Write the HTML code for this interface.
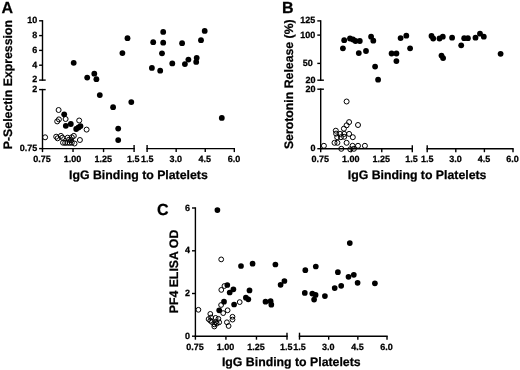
<!DOCTYPE html>
<html><head><meta charset="utf-8"><title>Figure</title>
<style>
html,body{margin:0;padding:0;background:#fff;}
body{width:520px;height:370px;overflow:hidden;}
svg{display:block;will-change:transform;}
svg text{font-family:"Liberation Sans",sans-serif;font-weight:bold;fill:#000;text-rendering:geometricPrecision;stroke:#000;stroke-width:0.25px;}
</style></head><body>
<svg width="520" height="370" viewBox="0 0 520 370">
<rect width="520" height="370" fill="#fff"/>
<text x="1.5" y="13.4" font-size="16" text-anchor="start" >A</text>
<line x1="42.50" y1="20.80" x2="42.50" y2="80.10" stroke="#000" stroke-width="1.4" stroke-linecap="square"/>
<line x1="39.10" y1="20.80" x2="42.50" y2="20.80" stroke="#000" stroke-width="1.4"/>
<text x="37.2" y="23.3" font-size="9" text-anchor="end" >10</text>
<line x1="39.10" y1="35.60" x2="42.50" y2="35.60" stroke="#000" stroke-width="1.4"/>
<text x="37.2" y="38.1" font-size="9" text-anchor="end" >8</text>
<line x1="39.10" y1="50.40" x2="42.50" y2="50.40" stroke="#000" stroke-width="1.4"/>
<text x="37.2" y="52.9" font-size="9" text-anchor="end" >6</text>
<line x1="39.10" y1="65.20" x2="42.50" y2="65.20" stroke="#000" stroke-width="1.4"/>
<text x="37.2" y="67.7" font-size="9" text-anchor="end" >4</text>
<line x1="39.10" y1="80.10" x2="45.70" y2="80.10" stroke="#000" stroke-width="1.4"/>
<text x="37.2" y="82.0" font-size="9" text-anchor="end" >2</text>
<line x1="42.50" y1="89.60" x2="42.50" y2="148.60" stroke="#000" stroke-width="1.4" stroke-linecap="square"/>
<line x1="39.10" y1="89.60" x2="45.70" y2="89.60" stroke="#000" stroke-width="1.4"/>
<text x="37.2" y="92.1" font-size="9" text-anchor="end" >2</text>
<line x1="39.10" y1="148.60" x2="42.50" y2="148.60" stroke="#000" stroke-width="1.4"/>
<text x="37.2" y="151.1" font-size="9" text-anchor="end" >0.75</text>
<line x1="42.50" y1="148.60" x2="134.09" y2="148.60" stroke="#000" stroke-width="1.4" stroke-linecap="square"/>
<line x1="147.10" y1="148.60" x2="234.31" y2="148.60" stroke="#000" stroke-width="1.4" stroke-linecap="square"/>
<line x1="42.50" y1="148.60" x2="42.50" y2="152.10" stroke="#000" stroke-width="1.4"/>
<line x1="73.03" y1="148.60" x2="73.03" y2="152.10" stroke="#000" stroke-width="1.4"/>
<line x1="103.56" y1="148.60" x2="103.56" y2="152.10" stroke="#000" stroke-width="1.4"/>
<line x1="134.09" y1="145.10" x2="134.09" y2="152.10" stroke="#000" stroke-width="1.4"/>
<line x1="147.10" y1="145.10" x2="147.10" y2="152.10" stroke="#000" stroke-width="1.4"/>
<line x1="176.17" y1="148.60" x2="176.17" y2="152.10" stroke="#000" stroke-width="1.4"/>
<line x1="205.24" y1="148.60" x2="205.24" y2="152.10" stroke="#000" stroke-width="1.4"/>
<line x1="234.31" y1="148.60" x2="234.31" y2="152.10" stroke="#000" stroke-width="1.4"/>
<text x="42.1" y="162.29999999999998" font-size="9" text-anchor="middle" >0.75</text>
<text x="72.63" y="162.29999999999998" font-size="9" text-anchor="middle" >1.00</text>
<text x="103.16" y="162.29999999999998" font-size="9" text-anchor="middle" >1.25</text>
<text x="133.29" y="162.29999999999998" font-size="9" text-anchor="middle" >1.5</text>
<text x="147.2" y="162.29999999999998" font-size="9" text-anchor="middle" >1.5</text>
<text x="175.76999999999998" y="162.29999999999998" font-size="9" text-anchor="middle" >3.0</text>
<text x="204.84" y="162.29999999999998" font-size="9" text-anchor="middle" >4.5</text>
<text x="233.91" y="162.29999999999998" font-size="9" text-anchor="middle" >6.0</text>
<text x="138.4" y="178.8" font-size="12.3" text-anchor="middle" >IgG Binding to Platelets</text>
<text transform="translate(11.7,84.6) rotate(-90)" font-size="12.3" text-anchor="middle">P-Selectin Expression</text>
<circle cx="58.6" cy="110.0" r="2.50" fill="none" stroke="#000" stroke-width="1.0"/>
<circle cx="65.6" cy="119.0" r="2.50" fill="none" stroke="#000" stroke-width="1.0"/>
<circle cx="57.2" cy="121.4" r="2.50" fill="none" stroke="#000" stroke-width="1.0"/>
<circle cx="58.9" cy="119.4" r="2.50" fill="none" stroke="#000" stroke-width="1.0"/>
<circle cx="79.2" cy="120.5" r="2.50" fill="none" stroke="#000" stroke-width="1.0"/>
<circle cx="86.6" cy="129.6" r="2.50" fill="none" stroke="#000" stroke-width="1.0"/>
<circle cx="45.1" cy="137.3" r="2.50" fill="none" stroke="#000" stroke-width="1.0"/>
<circle cx="56.2" cy="136.7" r="2.50" fill="none" stroke="#000" stroke-width="1.0"/>
<circle cx="57.6" cy="138.3" r="2.50" fill="none" stroke="#000" stroke-width="1.0"/>
<circle cx="60.9" cy="135.9" r="2.50" fill="none" stroke="#000" stroke-width="1.0"/>
<circle cx="62.3" cy="137.7" r="2.50" fill="none" stroke="#000" stroke-width="1.0"/>
<circle cx="67.7" cy="137.7" r="2.50" fill="none" stroke="#000" stroke-width="1.0"/>
<circle cx="73.8" cy="135.9" r="2.50" fill="none" stroke="#000" stroke-width="1.0"/>
<circle cx="71.8" cy="137.3" r="2.50" fill="none" stroke="#000" stroke-width="1.0"/>
<circle cx="79.9" cy="140.0" r="2.50" fill="none" stroke="#000" stroke-width="1.0"/>
<circle cx="74.5" cy="143.5" r="2.50" fill="none" stroke="#000" stroke-width="1.0"/>
<circle cx="63" cy="142.7" r="2.50" fill="none" stroke="#000" stroke-width="1.0"/>
<circle cx="65.2" cy="142.9" r="2.50" fill="none" stroke="#000" stroke-width="1.0"/>
<circle cx="67.4" cy="142.7" r="2.50" fill="none" stroke="#000" stroke-width="1.0"/>
<circle cx="69.6" cy="142.9" r="2.50" fill="none" stroke="#000" stroke-width="1.0"/>
<circle cx="71.8" cy="142.7" r="2.50" fill="none" stroke="#000" stroke-width="1.0"/>
<circle cx="69" cy="139.7" r="2.50" fill="none" stroke="#000" stroke-width="1.0"/>
<circle cx="71" cy="140.3" r="2.50" fill="none" stroke="#000" stroke-width="1.0"/>
<circle cx="73.7" cy="62.8" r="2.9" fill="#000"/>
<circle cx="87.2" cy="77.6" r="2.9" fill="#000"/>
<circle cx="94.3" cy="73.7" r="2.9" fill="#000"/>
<circle cx="96.4" cy="79.2" r="2.9" fill="#000"/>
<circle cx="122.4" cy="53.1" r="2.9" fill="#000"/>
<circle cx="127.5" cy="38.2" r="2.9" fill="#000"/>
<circle cx="99.8" cy="95.1" r="2.9" fill="#000"/>
<circle cx="113.1" cy="107.2" r="2.9" fill="#000"/>
<circle cx="131.3" cy="102.1" r="2.9" fill="#000"/>
<circle cx="118.2" cy="128.6" r="2.9" fill="#000"/>
<circle cx="118.2" cy="140.1" r="2.9" fill="#000"/>
<circle cx="64.2" cy="114.3" r="2.9" fill="#000"/>
<circle cx="65.8" cy="125.8" r="2.9" fill="#000"/>
<circle cx="70.8" cy="124.0" r="2.9" fill="#000"/>
<circle cx="76.2" cy="129.0" r="2.9" fill="#000"/>
<circle cx="80.5" cy="126.1" r="2.9" fill="#000"/>
<circle cx="78.5" cy="127.4" r="2.9" fill="#000"/>
<circle cx="163.2" cy="31.9" r="2.9" fill="#000"/>
<circle cx="153.2" cy="42.2" r="2.9" fill="#000"/>
<circle cx="163.2" cy="42.7" r="2.9" fill="#000"/>
<circle cx="162" cy="53.3" r="2.9" fill="#000"/>
<circle cx="151.9" cy="67.9" r="2.9" fill="#000"/>
<circle cx="160.2" cy="70.7" r="2.9" fill="#000"/>
<circle cx="172.3" cy="63.4" r="2.9" fill="#000"/>
<circle cx="182.1" cy="43.2" r="2.9" fill="#000"/>
<circle cx="184.9" cy="64.1" r="2.9" fill="#000"/>
<circle cx="188.4" cy="59.6" r="2.9" fill="#000"/>
<circle cx="196.7" cy="57.8" r="2.9" fill="#000"/>
<circle cx="196.2" cy="61.9" r="2.9" fill="#000"/>
<circle cx="201" cy="40.2" r="2.9" fill="#000"/>
<circle cx="204.7" cy="30.9" r="2.9" fill="#000"/>
<circle cx="221.8" cy="117.9" r="2.9" fill="#000"/>
<text x="281.9" y="13.4" font-size="16" text-anchor="start" >B</text>
<line x1="320.70" y1="20.90" x2="320.70" y2="80.20" stroke="#000" stroke-width="1.4" stroke-linecap="square"/>
<line x1="317.30" y1="20.90" x2="320.70" y2="20.90" stroke="#000" stroke-width="1.4"/>
<text x="315.40000000000003" y="23.4" font-size="9" text-anchor="end" >125</text>
<line x1="317.30" y1="35.10" x2="320.70" y2="35.10" stroke="#000" stroke-width="1.4"/>
<text x="315.40000000000003" y="37.6" font-size="9" text-anchor="end" >100</text>
<line x1="317.30" y1="63.40" x2="320.70" y2="63.40" stroke="#000" stroke-width="1.4"/>
<text x="312.70000000000005" y="65.9" font-size="9" text-anchor="end" >50</text>
<line x1="317.30" y1="80.20" x2="323.90" y2="80.20" stroke="#000" stroke-width="1.4"/>
<text x="315.40000000000003" y="82.7" font-size="9" text-anchor="end" >20</text>
<line x1="320.70" y1="89.20" x2="320.70" y2="148.70" stroke="#000" stroke-width="1.4" stroke-linecap="square"/>
<line x1="317.30" y1="89.20" x2="323.90" y2="89.20" stroke="#000" stroke-width="1.4"/>
<text x="315.40000000000003" y="91.7" font-size="9" text-anchor="end" >20</text>
<line x1="317.30" y1="148.70" x2="320.70" y2="148.70" stroke="#000" stroke-width="1.4"/>
<text x="315.40000000000003" y="151.2" font-size="9" text-anchor="end" >0</text>
<line x1="320.70" y1="148.70" x2="412.29" y2="148.70" stroke="#000" stroke-width="1.4" stroke-linecap="square"/>
<line x1="427.20" y1="148.70" x2="513.00" y2="148.70" stroke="#000" stroke-width="1.4" stroke-linecap="square"/>
<line x1="320.70" y1="148.70" x2="320.70" y2="152.20" stroke="#000" stroke-width="1.4"/>
<line x1="351.23" y1="148.70" x2="351.23" y2="152.20" stroke="#000" stroke-width="1.4"/>
<line x1="381.76" y1="148.70" x2="381.76" y2="152.20" stroke="#000" stroke-width="1.4"/>
<line x1="412.29" y1="145.20" x2="412.29" y2="152.20" stroke="#000" stroke-width="1.4"/>
<line x1="427.20" y1="145.20" x2="427.20" y2="152.20" stroke="#000" stroke-width="1.4"/>
<line x1="455.80" y1="148.70" x2="455.80" y2="152.20" stroke="#000" stroke-width="1.4"/>
<line x1="484.40" y1="148.70" x2="484.40" y2="152.20" stroke="#000" stroke-width="1.4"/>
<line x1="513.00" y1="148.70" x2="513.00" y2="152.20" stroke="#000" stroke-width="1.4"/>
<text x="320.3" y="162.39999999999998" font-size="9" text-anchor="middle" >0.75</text>
<text x="350.83000000000004" y="162.39999999999998" font-size="9" text-anchor="middle" >1.00</text>
<text x="381.36" y="162.39999999999998" font-size="9" text-anchor="middle" >1.25</text>
<text x="411.49" y="162.39999999999998" font-size="9" text-anchor="middle" >1.5</text>
<text x="427.3" y="162.39999999999998" font-size="9" text-anchor="middle" >1.5</text>
<text x="455.40000000000003" y="162.39999999999998" font-size="9" text-anchor="middle" >3.0</text>
<text x="484.0" y="162.39999999999998" font-size="9" text-anchor="middle" >4.5</text>
<text x="512.6" y="162.39999999999998" font-size="9" text-anchor="middle" >6.0</text>
<text x="417.1" y="178.8" font-size="12.3" text-anchor="middle" >IgG Binding to Platelets</text>
<text transform="translate(293.1,84.2) rotate(-90)" font-size="12.3" text-anchor="middle">Serotonin Release (%)</text>
<circle cx="346.6" cy="101.5" r="2.50" fill="none" stroke="#000" stroke-width="1.0"/>
<circle cx="349.1" cy="122.1" r="2.50" fill="none" stroke="#000" stroke-width="1.0"/>
<circle cx="346.6" cy="125.3" r="2.50" fill="none" stroke="#000" stroke-width="1.0"/>
<circle cx="358" cy="125" r="2.50" fill="none" stroke="#000" stroke-width="1.0"/>
<circle cx="343.9" cy="128.7" r="2.50" fill="none" stroke="#000" stroke-width="1.0"/>
<circle cx="335.8" cy="130.7" r="2.50" fill="none" stroke="#000" stroke-width="1.0"/>
<circle cx="336.1" cy="133.6" r="2.50" fill="none" stroke="#000" stroke-width="1.0"/>
<circle cx="340.1" cy="133.9" r="2.50" fill="none" stroke="#000" stroke-width="1.0"/>
<circle cx="344.2" cy="133.9" r="2.50" fill="none" stroke="#000" stroke-width="1.0"/>
<circle cx="349.1" cy="133.9" r="2.50" fill="none" stroke="#000" stroke-width="1.0"/>
<circle cx="337.2" cy="137.2" r="2.50" fill="none" stroke="#000" stroke-width="1.0"/>
<circle cx="340.9" cy="137.2" r="2.50" fill="none" stroke="#000" stroke-width="1.0"/>
<circle cx="344.2" cy="136.8" r="2.50" fill="none" stroke="#000" stroke-width="1.0"/>
<circle cx="352.8" cy="137.2" r="2.50" fill="none" stroke="#000" stroke-width="1.0"/>
<circle cx="334.5" cy="142.8" r="2.50" fill="none" stroke="#000" stroke-width="1.0"/>
<circle cx="337.4" cy="142.8" r="2.50" fill="none" stroke="#000" stroke-width="1.0"/>
<circle cx="346.6" cy="142.8" r="2.50" fill="none" stroke="#000" stroke-width="1.0"/>
<circle cx="323.9" cy="145.8" r="2.50" fill="none" stroke="#000" stroke-width="1.0"/>
<circle cx="352.6" cy="145.8" r="2.50" fill="none" stroke="#000" stroke-width="1.0"/>
<circle cx="358" cy="145.8" r="2.50" fill="none" stroke="#000" stroke-width="1.0"/>
<circle cx="364.9" cy="145.8" r="2.50" fill="none" stroke="#000" stroke-width="1.0"/>
<circle cx="341.3" cy="148.8" r="2.50" fill="none" stroke="#000" stroke-width="1.0"/>
<circle cx="350.3" cy="149.3" r="2.50" fill="none" stroke="#000" stroke-width="1.0"/>
<circle cx="353.9" cy="148.8" r="2.50" fill="none" stroke="#000" stroke-width="1.0"/>
<circle cx="342.9" cy="48.3" r="2.9" fill="#000"/>
<circle cx="344.2" cy="40.2" r="2.9" fill="#000"/>
<circle cx="350" cy="38.5" r="2.9" fill="#000"/>
<circle cx="353" cy="39.5" r="2.9" fill="#000"/>
<circle cx="355.5" cy="41" r="2.9" fill="#000"/>
<circle cx="359.8" cy="41" r="2.9" fill="#000"/>
<circle cx="358.8" cy="53.1" r="2.9" fill="#000"/>
<circle cx="366" cy="51" r="2.9" fill="#000"/>
<circle cx="371.1" cy="36.7" r="2.9" fill="#000"/>
<circle cx="373.3" cy="40.7" r="2.9" fill="#000"/>
<circle cx="375.1" cy="66.6" r="2.9" fill="#000"/>
<circle cx="378.1" cy="79.7" r="2.9" fill="#000"/>
<circle cx="391.6" cy="53.5" r="2.9" fill="#000"/>
<circle cx="396.4" cy="53.5" r="2.9" fill="#000"/>
<circle cx="396.4" cy="61.1" r="2.9" fill="#000"/>
<circle cx="400.6" cy="38.1" r="2.9" fill="#000"/>
<circle cx="406.3" cy="35.7" r="2.9" fill="#000"/>
<circle cx="410.1" cy="48.3" r="2.9" fill="#000"/>
<circle cx="431.5" cy="36" r="2.9" fill="#000"/>
<circle cx="433.2" cy="38.5" r="2.9" fill="#000"/>
<circle cx="439.5" cy="38.5" r="2.9" fill="#000"/>
<circle cx="442.8" cy="36.7" r="2.9" fill="#000"/>
<circle cx="452.1" cy="37.7" r="2.9" fill="#000"/>
<circle cx="441.5" cy="55.6" r="2.9" fill="#000"/>
<circle cx="443.1" cy="58.1" r="2.9" fill="#000"/>
<circle cx="461.2" cy="45.3" r="2.9" fill="#000"/>
<circle cx="464.2" cy="38.2" r="2.9" fill="#000"/>
<circle cx="467.9" cy="38.2" r="2.9" fill="#000"/>
<circle cx="475.5" cy="37.7" r="2.9" fill="#000"/>
<circle cx="480" cy="33.7" r="2.9" fill="#000"/>
<circle cx="483.8" cy="36.7" r="2.9" fill="#000"/>
<circle cx="500.6" cy="53.8" r="2.9" fill="#000"/>
<text x="157.1" y="215.2" font-size="16" text-anchor="start" >C</text>
<line x1="195.40" y1="208.00" x2="195.40" y2="336.20" stroke="#000" stroke-width="1.4" stroke-linecap="square"/>
<line x1="192.00" y1="208.00" x2="195.40" y2="208.00" stroke="#000" stroke-width="1.4"/>
<text x="190.1" y="210.5" font-size="9" text-anchor="end" >6</text>
<line x1="192.00" y1="250.80" x2="195.40" y2="250.80" stroke="#000" stroke-width="1.4"/>
<text x="190.1" y="253.3" font-size="9" text-anchor="end" >4</text>
<line x1="192.00" y1="293.50" x2="195.40" y2="293.50" stroke="#000" stroke-width="1.4"/>
<text x="190.1" y="296.0" font-size="9" text-anchor="end" >2</text>
<line x1="192.00" y1="336.20" x2="195.40" y2="336.20" stroke="#000" stroke-width="1.4"/>
<text x="190.1" y="338.7" font-size="9" text-anchor="end" >0</text>
<line x1="195.40" y1="336.20" x2="286.99" y2="336.20" stroke="#000" stroke-width="1.4" stroke-linecap="square"/>
<line x1="299.50" y1="336.20" x2="387.01" y2="336.20" stroke="#000" stroke-width="1.4" stroke-linecap="square"/>
<line x1="195.40" y1="336.20" x2="195.40" y2="339.70" stroke="#000" stroke-width="1.4"/>
<line x1="225.93" y1="336.20" x2="225.93" y2="339.70" stroke="#000" stroke-width="1.4"/>
<line x1="256.46" y1="336.20" x2="256.46" y2="339.70" stroke="#000" stroke-width="1.4"/>
<line x1="286.99" y1="332.70" x2="286.99" y2="339.70" stroke="#000" stroke-width="1.4"/>
<line x1="299.50" y1="332.70" x2="299.50" y2="339.70" stroke="#000" stroke-width="1.4"/>
<line x1="328.67" y1="336.20" x2="328.67" y2="339.70" stroke="#000" stroke-width="1.4"/>
<line x1="357.84" y1="336.20" x2="357.84" y2="339.70" stroke="#000" stroke-width="1.4"/>
<line x1="387.01" y1="336.20" x2="387.01" y2="339.70" stroke="#000" stroke-width="1.4"/>
<text x="195.0" y="349.9" font-size="9" text-anchor="middle" >0.75</text>
<text x="225.53" y="349.9" font-size="9" text-anchor="middle" >1.00</text>
<text x="256.06000000000006" y="349.9" font-size="9" text-anchor="middle" >1.25</text>
<text x="286.19000000000005" y="349.9" font-size="9" text-anchor="middle" >1.5</text>
<text x="299.6" y="349.9" font-size="9" text-anchor="middle" >1.5</text>
<text x="328.27000000000004" y="349.9" font-size="9" text-anchor="middle" >3.0</text>
<text x="357.44000000000005" y="349.9" font-size="9" text-anchor="middle" >4.5</text>
<text x="386.61" y="349.9" font-size="9" text-anchor="middle" >6.0</text>
<text x="291.3" y="366.4" font-size="12.3" text-anchor="middle" >IgG Binding to Platelets</text>
<text transform="translate(178.2,271.5) rotate(-90)" font-size="12.3" text-anchor="middle">PF4 ELISA OD</text>
<circle cx="221.2" cy="259.4" r="2.40" fill="none" stroke="#000" stroke-width="1.0"/>
<circle cx="224.4" cy="286" r="2.40" fill="none" stroke="#000" stroke-width="1.0"/>
<circle cx="221.3" cy="289.9" r="2.40" fill="none" stroke="#000" stroke-width="1.0"/>
<circle cx="239.7" cy="302.1" r="2.40" fill="none" stroke="#000" stroke-width="1.0"/>
<circle cx="221.1" cy="305" r="2.40" fill="none" stroke="#000" stroke-width="1.0"/>
<circle cx="198.4" cy="309.8" r="2.40" fill="none" stroke="#000" stroke-width="1.0"/>
<circle cx="227.6" cy="310.3" r="2.40" fill="none" stroke="#000" stroke-width="1.0"/>
<circle cx="223.2" cy="313.1" r="2.40" fill="none" stroke="#000" stroke-width="1.0"/>
<circle cx="210.3" cy="313.9" r="2.40" fill="none" stroke="#000" stroke-width="1.0"/>
<circle cx="232.5" cy="316.8" r="2.40" fill="none" stroke="#000" stroke-width="1.0"/>
<circle cx="232.5" cy="319.6" r="2.40" fill="none" stroke="#000" stroke-width="1.0"/>
<circle cx="226.9" cy="322.3" r="2.40" fill="none" stroke="#000" stroke-width="1.0"/>
<circle cx="228.6" cy="326" r="2.40" fill="none" stroke="#000" stroke-width="1.0"/>
<circle cx="208.6" cy="319.1" r="2.40" fill="none" stroke="#000" stroke-width="1.0"/>
<circle cx="211.1" cy="317.5" r="2.40" fill="none" stroke="#000" stroke-width="1.0"/>
<circle cx="211.9" cy="322" r="2.40" fill="none" stroke="#000" stroke-width="1.0"/>
<circle cx="215.6" cy="317.9" r="2.40" fill="none" stroke="#000" stroke-width="1.0"/>
<circle cx="218.4" cy="318.8" r="2.40" fill="none" stroke="#000" stroke-width="1.0"/>
<circle cx="215.9" cy="322" r="2.40" fill="none" stroke="#000" stroke-width="1.0"/>
<circle cx="219.2" cy="322.3" r="2.40" fill="none" stroke="#000" stroke-width="1.0"/>
<circle cx="214.3" cy="324.4" r="2.40" fill="none" stroke="#000" stroke-width="1.0"/>
<circle cx="214.3" cy="326.5" r="2.40" fill="none" stroke="#000" stroke-width="1.0"/>
<circle cx="216.7" cy="323.6" r="2.40" fill="none" stroke="#000" stroke-width="1.0"/>
<circle cx="210.3" cy="320.7" r="2.40" fill="none" stroke="#000" stroke-width="1.0"/>
<circle cx="217.4" cy="210.1" r="2.85" fill="#000"/>
<circle cx="241" cy="266" r="2.85" fill="#000"/>
<circle cx="252.6" cy="263.7" r="2.85" fill="#000"/>
<circle cx="275.4" cy="264.5" r="2.85" fill="#000"/>
<circle cx="227.3" cy="285" r="2.85" fill="#000"/>
<circle cx="233.4" cy="289.3" r="2.85" fill="#000"/>
<circle cx="229.7" cy="292.5" r="2.85" fill="#000"/>
<circle cx="249.5" cy="290.4" r="2.85" fill="#000"/>
<circle cx="245.9" cy="297.7" r="2.85" fill="#000"/>
<circle cx="248.3" cy="299.3" r="2.85" fill="#000"/>
<circle cx="224" cy="301.7" r="2.85" fill="#000"/>
<circle cx="234.1" cy="304.5" r="2.85" fill="#000"/>
<circle cx="219.2" cy="310.3" r="2.85" fill="#000"/>
<circle cx="284.4" cy="281" r="2.85" fill="#000"/>
<circle cx="280.6" cy="284.8" r="2.85" fill="#000"/>
<circle cx="265.5" cy="301.7" r="2.85" fill="#000"/>
<circle cx="270.6" cy="301.2" r="2.85" fill="#000"/>
<circle cx="271.3" cy="304.7" r="2.85" fill="#000"/>
<circle cx="305.3" cy="270.2" r="2.85" fill="#000"/>
<circle cx="315.8" cy="266.5" r="2.85" fill="#000"/>
<circle cx="304.8" cy="292.9" r="2.85" fill="#000"/>
<circle cx="312.3" cy="293.6" r="2.85" fill="#000"/>
<circle cx="315.6" cy="294.9" r="2.85" fill="#000"/>
<circle cx="314.1" cy="299.6" r="2.85" fill="#000"/>
<circle cx="324.9" cy="296.1" r="2.85" fill="#000"/>
<circle cx="334.7" cy="288.1" r="2.85" fill="#000"/>
<circle cx="337.9" cy="272.2" r="2.85" fill="#000"/>
<circle cx="341.2" cy="285.8" r="2.85" fill="#000"/>
<circle cx="348.5" cy="276.8" r="2.85" fill="#000"/>
<circle cx="353.8" cy="274.8" r="2.85" fill="#000"/>
<circle cx="349.8" cy="243.1" r="2.85" fill="#000"/>
<circle cx="357.6" cy="282.8" r="2.85" fill="#000"/>
<circle cx="374.9" cy="283.3" r="2.85" fill="#000"/>
</svg>
</body></html>
